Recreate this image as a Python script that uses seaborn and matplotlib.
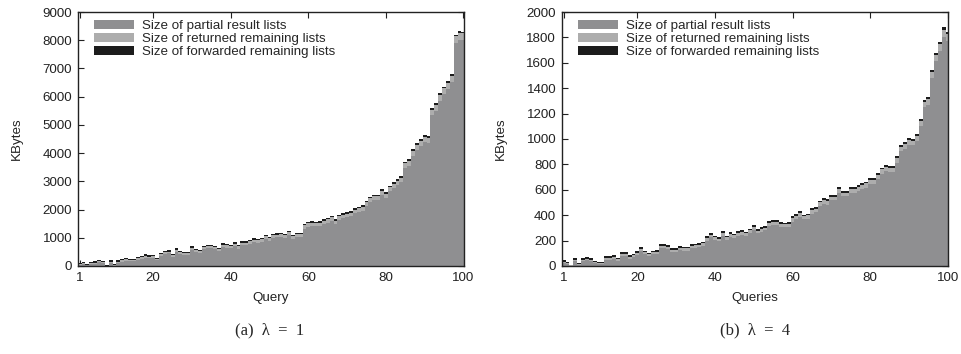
import numpy as np
import pandas as pd
import matplotlib
matplotlib.use("Agg")
import matplotlib.pyplot as plt
from matplotlib.patches import Patch
import seaborn as sns

queries = list(range(1, 101))

# Panel (a), lambda = 1  (KBytes)
partial_a = [30, 70, 20, 60, 80, 130, 90, 5, 110, 15,
             105, 150, 190, 170, 165, 225, 265, 300, 275, 300,
             205, 350, 420, 445, 325, 500, 420, 405, 400, 580,
             485, 465, 595, 630, 635, 600, 515, 670, 655, 635,
             710, 615, 745, 740, 785, 840, 825, 860, 955, 885,
             1005, 1015, 1030, 1005, 1100, 960, 1030, 1030, 1325, 1395,
             1410, 1400, 1405, 1475, 1525, 1600, 1490, 1640, 1690, 1720,
             1765, 1865, 1910, 1965, 2125, 2255, 2325, 2330, 2520, 2420,
             2645, 2765, 2870, 2970, 3470, 3550, 3915, 4110, 4260, 4395,
             4365, 5340, 5500, 5855, 6080, 6280, 6525, 7905, 8025, 8010]
returned_a = [30, 35, 25, 35, 40, 45, 40, 5, 45, 10,
              50, 50, 55, 50, 50, 55, 60, 60, 60, 60,
              50, 60, 65, 65, 60, 70, 65, 65, 65, 70,
              70, 70, 75, 75, 75, 75, 70, 80, 80, 80,
              80, 80, 85, 85, 85, 90, 90, 90, 95, 90,
              95, 95, 95, 95, 100, 95, 100, 100, 120, 120,
              120, 120, 120, 120, 125, 125, 120, 125, 125, 130,
              130, 130, 135, 135, 140, 140, 140, 140, 145, 145,
              150, 150, 155, 155, 170, 170, 175, 180, 180, 185,
              185, 200, 200, 205, 210, 210, 215, 230, 230, 230]
forwarded_a = [40, 45, 35, 45, 50, 45, 40, 30, 45, 35,
               45, 50, 45, 40, 45, 50, 45, 50, 45, 40,
               45, 50, 45, 50, 45, 50, 45, 40, 45, 50,
               45, 45, 50, 45, 50, 45, 45, 50, 45, 45,
               50, 45, 50, 45, 50, 50, 45, 50, 50, 45,
               50, 50, 45, 50, 50, 45, 50, 50, 55, 55,
               50, 50, 55, 55, 50, 55, 50, 55, 55, 50,
               55, 55, 55, 50, 55, 55, 55, 50, 55, 55,
               55, 55, 55, 55, 60, 60, 60, 60, 60, 60,
               60, 60, 60, 60, 60, 60, 60, 65, 65, 60]

# Panel (b), lambda = 4  (KBytes)
partial_b = [23, 12, 2, 40, 7, 40, 46, 36, 20, 17,
             17, 48, 51, 59, 43, 81, 81, 59, 69, 85,
             119, 93, 80, 93, 97, 138, 138, 133, 112, 112,
             126, 121, 121, 140, 145, 150, 160, 200, 225, 205,
             193, 239, 208, 229, 222, 238, 248, 236, 257, 282,
             256, 270, 280, 316, 326, 321, 309, 304, 309, 350,
             369, 389, 367, 372, 413, 423, 472, 492, 482, 516,
             516, 575, 548, 548, 575, 575, 594, 604, 618, 648,
             643, 682, 726, 746, 741, 739, 814, 902, 922, 956,
             949, 985, 1103, 1250, 1270, 1480, 1615, 1693, 1807, 1770]
returned_b = [10, 8, 3, 10, 5, 10, 12, 12, 10, 10,
              10, 12, 12, 14, 12, 14, 14, 14, 14, 15,
              16, 15, 15, 15, 16, 17, 17, 17, 16, 16,
              17, 17, 17, 18, 18, 18, 18, 20, 20, 20,
              20, 21, 20, 21, 21, 22, 22, 22, 23, 23,
              22, 23, 23, 24, 24, 24, 24, 24, 24, 25,
              26, 26, 26, 26, 27, 27, 28, 28, 28, 29,
              29, 30, 30, 30, 30, 30, 31, 31, 32, 32,
              32, 33, 34, 34, 34, 34, 36, 38, 38, 39,
              39, 40, 42, 45, 45, 48, 50, 52, 55, 55]
forwarded_b = [12, 10, 5, 15, 8, 15, 12, 12, 10, 8,
               8, 15, 12, 12, 10, 15, 15, 12, 12, 15,
               15, 12, 10, 12, 12, 15, 15, 15, 12, 12,
               12, 12, 12, 12, 12, 12, 12, 15, 15, 15,
               12, 15, 12, 15, 12, 15, 15, 12, 15, 15,
               12, 12, 12, 15, 15, 15, 12, 12, 12, 15,
               15, 15, 12, 12, 15, 15, 15, 15, 15, 15,
               15, 15, 12, 12, 15, 15, 15, 15, 15, 15,
               15, 15, 15, 15, 15, 12, 15, 15, 15, 15,
               12, 15, 15, 15, 15, 12, 15, 15, 18, 15]

series_names = ["Size of partial result lists",
                "Size of returned remaining lists",
                "Size of forwarded remaining lists"]
colors = {series_names[0]: "#8f8f91",
          series_names[1]: "#adadad",
          series_names[2]: "#1c1c1c"}

panels = [
    dict(p=partial_a, r=returned_a, f=forwarded_a, xlabel="Query",
         ymax=9000, ystep=1000, caption="(a)  λ  =  1",
         rect=[0.0808, 0.2486, 0.4020, 0.7175], cx=0.281),
    dict(p=partial_b, r=returned_b, f=forwarded_b, xlabel="Queries",
         ymax=2000, ystep=200, caption="(b)  λ  =  4",
         rect=[0.5845, 0.2486, 0.4023, 0.7175], cx=0.786),
]

sns.set_theme(style="ticks")
plt.rcParams["font.family"] = ["Liberation Sans", "DejaVu Sans"]

fig = plt.figure(figsize=(9.61, 3.54), dpi=100)
FS = 9.6

for pn in panels:
    df = pd.DataFrame({
        "query": queries * 3,
        "kb": pn["p"] + pn["r"] + pn["f"],
        "series": [series_names[0]] * 100 + [series_names[1]] * 100 + [series_names[2]] * 100,
    })
    ax = fig.add_axes(pn["rect"])
    # stack: last hue level ends up at the bottom
    sns.histplot(data=df, x="query", weights="kb", hue="series",
                 hue_order=[series_names[2], series_names[1], series_names[0]],
                 multiple="stack", discrete=True, element="step", fill=True,
                 palette=colors, alpha=1, linewidth=0, legend=False, ax=ax)
    ax.set_xlim(0.5, 100.15)
    ax.set_ylim(0, pn["ymax"])
    ax.set_xticks([1, 20, 40, 60, 80, 100])
    ax.set_yticks(np.arange(0, pn["ymax"] + 1, pn["ystep"]))
    ax.tick_params(direction="in", length=4, width=0.8, top=True, right=True,
                   labelsize=FS, colors="#222222", pad=4)
    for s in ax.spines.values():
        s.set_visible(True)
        s.set_linewidth(1.0)
        s.set_color("#222222")
    ax.set_xlabel(pn["xlabel"], fontsize=FS, labelpad=6, color="#222222")
    ax.set_ylabel("KBytes", fontsize=FS, labelpad=14, color="#222222")
    handles = [Patch(facecolor=colors[n], edgecolor="none", label=n) for n in series_names]
    ax.legend(handles=handles, loc="upper left", bbox_to_anchor=(0.022, 1.0),
              frameon=False, fontsize=FS, handlelength=3.0, handleheight=0.6,
              labelspacing=0.08, borderpad=0.1, handletextpad=0.6)
    fig.text(pn["cx"], 0.068, pn["caption"], ha="center", va="center",
             fontsize=12, family=["Liberation Serif", "DejaVu Serif"])

fig.savefig("out.png", dpi=100)
